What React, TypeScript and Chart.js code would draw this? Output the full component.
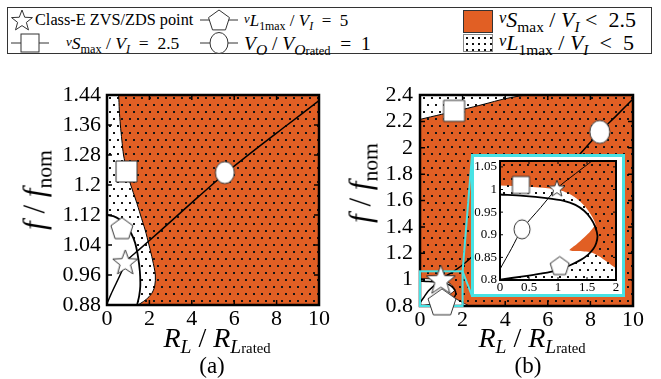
import React, { useEffect, useRef } from 'react';
import { Chart, registerables } from 'chart.js';
Chart.register(...registerables);

const FONT = '"Liberation Serif", "Tinos", "DejaVu Serif", "Noto Serif", "Times New Roman", Times, serif';
const ORANGE = '#E15F24';
const CYAN = 'rgb(72, 226, 228)';

// ---------- Chart (a) ----------
const aXTicks = [0, 2, 4, 6, 8, 10];
const aXTickLabels = ['0', '2', '4', '6', '8', '10'];
const aYTicks = [0.88, 0.96, 1.04, 1.12, 1.2, 1.28, 1.36, 1.44];
const aYTickLabels = ['0.88', '0.96', '1.04', '1.12', '1.2', '1.28', '1.36', '1.44'];
// vSmax/VI = 2.5 contour
const aVsX = [0.5, 0.55, 0.58, 0.63, 0.7, 0.78, 0.93, 1.12, 1.36, 1.58, 1.8, 1.98, 2.15, 2.28, 2.25, 2.1, 1.85, 1.6, 1.46, 1.3];
const aVsY = [1.47, 1.44, 1.4, 1.36, 1.32, 1.28, 1.24, 1.2, 1.16, 1.12, 1.08, 1.04, 1.0, 0.96, 0.93, 0.91, 0.895, 0.885, 0.88, 0.87];
// vL1max/VI = 5 contour
const aVlX = [0, 0.3, 0.6, 0.9, 1.15, 1.33, 1.46, 1.55, 1.57, 1.52, 1.44, 1.38];
const aVlY = [1.12, 1.117, 1.108, 1.092, 1.07, 1.045, 1.01, 0.97, 0.93, 0.905, 0.885, 0.87];
// Vo/Vo_rated = 1 curve
const aVoX = [0, 0.2, 0.45, 0.7, 0.88, 1.5, 2.5, 4, 5.56, 7, 8.5, 10];
const aVoY = [0.884, 0.91, 0.94, 0.97, 0.995, 1.027, 1.077, 1.153, 1.23, 1.295, 1.36, 1.425];
// markers: square, pentagon, star, circle
const aMarkKinds = ['square', 'pentagon', 'star', 'circle'];
const aMarkX = [0.92, 0.7, 0.86, 5.56];
const aMarkY = [1.236, 1.085, 0.995, 1.233];

// ---------- Chart (b) ----------
const bXTicks = [0, 2, 4, 6, 8, 10];
const bXTickLabels = ['0', '2', '4', '6', '8', '10'];
const bYTicks = [0.8, 1, 1.2, 1.4, 1.6, 1.8, 2, 2.2, 2.4];
const bYTickLabels = ['0.8', '1', '1.2', '1.4', '1.6', '1.8', '2', '2.2', '2.4'];
const bVsTopX = [-0.5, 0, 1, 2, 3, 4, 5.1, 5.8];
const bVsTopY = [2.195, 2.215, 2.253, 2.29, 2.33, 2.372, 2.405, 2.43];
const bVsLowX = [-0.5, 0, 0.5, 0.98, 1.2, 1.35, 1.47, 1.56, 1.62, 1.645, 1.61, 1.54, 1.44, 1.32, 1.2, 1.32, 1.45, 1.58, 1.7, 1.85, 2.0, 2.2, 2.45];
const bVsLowY = [1.012, 1.009, 1.006, 1.0, 0.99, 0.977, 0.962, 0.946, 0.932, 0.922, 0.916, 0.905, 0.893, 0.879, 0.866, 0.864, 0.863, 0.861, 0.853, 0.84, 0.826, 0.81, 0.79];
const bVlX = [0, 0.4, 0.8, 1.1, 1.3, 1.45, 1.56, 1.64, 1.68, 1.66, 1.61, 1.52, 1.4, 1.2, 1.0, 0.7, 0.4, 0];
const bVlY = [0.989, 0.986, 0.981, 0.975, 0.966, 0.953, 0.937, 0.918, 0.898, 0.882, 0.869, 0.856, 0.845, 0.832, 0.822, 0.814, 0.808, 0.801];
const bVoX = [0, 0.2, 0.38, 0.7, 0.98, 1.3, 1.6, 2.11, 3, 4, 5, 6, 7, 7.5, 8.44, 9.2, 10];
const bVoY = [0.824, 0.87, 0.912, 0.96, 1.002, 1.035, 1.065, 1.126, 1.255, 1.405, 1.56, 1.715, 1.87, 1.95, 2.12, 2.24, 2.37];
const bMarkKinds = ['square', 'circle', 'star', 'pentagon'];
const bMarkX = [1.6, 8.44, 0.98, 1.03];
const bMarkY = [2.28, 2.12, 1.003, 0.832];

// ---------- Inset of (b) ----------
const cXTicks = [0, 0.5, 1, 1.5, 2];
const cXTickLabels = ['0', '0.5', '1', '1.5', '2'];
const cYTicks = [0.8, 0.85, 0.9, 0.95, 1, 1.05];
const cYTickLabels = ['0.8', '0.85', '0.9', '0.95', '1', '1.05'];
const cMarkKinds = ['square', 'star', 'circle', 'pentagon'];
const cMarkX = [0.36, 0.98, 0.38, 1.03];
const cMarkY = [1.01, 1.003, 0.912, 0.832];

const pts = (xs: number[], ys: number[]) => xs.map((x, i) => ({ x, y: ys[i] }));

function makeMarker(kind: string, w: number, h: number, lw = 1): HTMLCanvasElement {
  const pad = 2;
  const c = document.createElement('canvas');
  c.width = Math.ceil(w + pad * 2);
  c.height = Math.ceil(h + pad * 2);
  const ctx = c.getContext('2d') as CanvasRenderingContext2D;
  const cx = c.width / 2, cy = c.height / 2;
  ctx.beginPath();
  if (kind === 'square') ctx.rect(cx - w / 2, cy - h / 2, w, h);
  else if (kind === 'circle') ctx.ellipse(cx, cy, w / 2, h / 2, 0, 0, Math.PI * 2);
  else {
    const n = 5;
    const R = w / (2 * Math.sin((2 * Math.PI) / 5));
    const hh = R * (1 + Math.cos(Math.PI / 5));
    const sy = h / hh;
    const oy = cy - h / 2 + R * sy;
    const steps = kind === 'star' ? n * 2 : n;
    for (let i = 0; i < steps; i++) {
      const a = -Math.PI / 2 + (i * 2 * Math.PI) / steps;
      const r = kind === 'star' && i % 2 === 1 ? R * 0.42 : R;
      const px = cx + r * Math.cos(a);
      const py = oy + r * Math.sin(a) * sy;
      if (i === 0) ctx.moveTo(px, py);
      else ctx.lineTo(px, py);
    }
  }
  ctx.closePath();
  ctx.fillStyle = '#fff';
  ctx.fill();
  ctx.strokeStyle = '#333';
  ctx.lineWidth = lw;
  ctx.stroke();
  return c;
}

function makeDots(ctx: CanvasRenderingContext2D): CanvasPattern {
  const t = document.createElement('canvas');
  t.width = 8;
  t.height = 14;
  const g = t.getContext('2d') as CanvasRenderingContext2D;
  g.fillStyle = '#151515';
  g.fillRect(1, 2, 2, 2);
  g.fillRect(5, 9, 2, 2);
  return ctx.createPattern(t, 'repeat') as CanvasPattern;
}

function axis(min: number, max: number, ticks: number[], labels: string[], size: number, pad: number, horizontal: boolean, thick: number) {
  return {
    type: 'linear',
    min,
    max,
    bounds: 'data',
    afterBuildTicks: (s: any) => {
      s.ticks = ticks.map((v) => ({ value: v }));
    },
    afterFit: (s: any) => {
      if (horizontal) s.height = thick;
      else s.width = thick;
      s.paddingLeft = 0;
      s.paddingRight = 0;
      s.paddingTop = 0;
      s.paddingBottom = 0;
    },
    ticks: {
      callback: (_v: any, i: number) => labels[i],
      font: { family: FONT, size },
      color: '#000',
      padding: pad,
      maxRotation: 0,
      autoSkip: false,
    },
    grid: { display: false, drawTicks: false },
    border: { display: false },
  };
}

function framePlugin(lw: number, tl: number, tw: number, extra?: (c: any) => void) {
  return {
    id: 'frameTicks',
    beforeDatasetDraw(chart: any, args: any) {
      if (chart.data.datasets[args.index].label !== 'markers') return;
      const { ctx, chartArea: a } = chart;
      const xs = chart.scales.x, ys = chart.scales.y;
      ctx.save();
      ctx.strokeStyle = '#000';
      ctx.lineWidth = tw;
      ctx.beginPath();
      for (const t of xs.ticks) {
        const p = xs.getPixelForValue(t.value);
        ctx.moveTo(p, a.bottom);
        ctx.lineTo(p, a.bottom - tl);
        ctx.moveTo(p, a.top);
        ctx.lineTo(p, a.top + tl);
      }
      for (const t of ys.ticks) {
        const p = ys.getPixelForValue(t.value);
        ctx.moveTo(a.left, p);
        ctx.lineTo(a.left + tl, p);
        ctx.moveTo(a.right, p);
        ctx.lineTo(a.right - tl, p);
      }
      ctx.stroke();
      ctx.lineWidth = lw;
      ctx.strokeRect(a.left, a.top, a.right - a.left, a.bottom - a.top);
      if (extra) extra(chart);
      ctx.restore();
    },
  };
}

function baseOptions(padding: any, scales: any) {
  return {
    animation: false,
    responsive: false,
    devicePixelRatio: 1,
    events: [],
    layout: { padding },
    plugins: { legend: { display: false }, tooltip: { enabled: false } },
    scales,
    elements: { line: { tension: 0.3 }, point: { radius: 0 } },
  };
}

function fillSet(label: string, data: any[], color: any, order: number) {
  return { label, data, fill: 'shape', backgroundColor: color, borderWidth: 0, pointRadius: 0, order };
}
function lineSet(label: string, data: any[], width: number, order: number) {
  return { label, data, fill: false, borderColor: '#000', borderWidth: width, pointRadius: 0, order };
}
function markerSet(xs: number[], ys: number[], styles: HTMLCanvasElement[]) {
  return { label: 'markers', data: pts(xs, ys), showLine: false, pointStyle: styles, pointRadius: 5, clip: false, order: 0 };
}

const sub: React.CSSProperties = { fontSize: '0.7em', verticalAlign: '-0.3em', lineHeight: 0 };
const subBig: React.CSSProperties = { fontSize: '0.8em', verticalAlign: '-0.3em', lineHeight: 0 };
const vpre: React.CSSProperties = { fontSize: '0.75em', verticalAlign: '0.25em', fontStyle: 'italic' };

const INSET = { left: 471, top: 154, width: 154, height: 143 };
const BCANVAS = { left: 330, top: 60 };

export default function App() {
  const aRef = useRef<HTMLCanvasElement>(null);
  const bRef = useRef<HTMLCanvasElement>(null);
  const cRef = useRef<HTMLCanvasElement>(null);

  useEffect(() => {
    const charts: Chart[] = [];
    // ----- (a)
    {
      const cv = aRef.current as HTMLCanvasElement;
      const dots = makeDots(cv.getContext('2d') as CanvasRenderingContext2D);
      const orangePoly = [...pts(aVsX, aVsY), { x: 11, y: 0.85 }, { x: 11, y: 1.5 }, { x: 0.45, y: 1.5 }];
      const dotsPoly = [{ x: -0.5, y: aVlY[0] }, ...pts(aVlX, aVlY), { x: 1.35, y: 0.85 }, { x: 11, y: 0.85 }, { x: 11, y: 1.5 }, { x: -0.5, y: 1.5 }];
      const styles = aMarkKinds.map((k) =>
        k === 'square' ? makeMarker(k, 21, 21) : k === 'pentagon' ? makeMarker(k, 22, 21) : k === 'star' ? makeMarker(k, 25, 24) : makeMarker(k, 19, 22)
      );
      charts.push(
        new Chart(cv, {
          type: 'line',
          data: {
            datasets: [
              fillSet('orange', orangePoly, ORANGE, 10),
              fillSet('dots', dotsPoly, dots, 9),
              lineSet('vS', pts(aVsX, aVsY), 1, 4),
              lineSet('vL', pts(aVlX, aVlY), 1.8, 3),
              lineSet('vo', pts(aVoX, aVoY), 1.5, 2),
              markerSet(aMarkX, aMarkY, styles),
            ] as any,
          },
          options: baseOptions({ left: 0, right: 11, top: 35, bottom: 0 }, {
            x: axis(0, 10, aXTicks, aXTickLabels, 22, 1, true, 30),
            y: axis(0.88, 1.44, aYTicks, aYTickLabels, 22, 6, false, 107),
          }) as any,
          plugins: [framePlugin(2.5, 5, 1.5)],
        })
      );
    }
    // ----- (b)
    const bOrange = [...pts(bVsTopX, bVsTopY), { x: 11, y: 2.5 }, { x: 11, y: 0.7 }, { x: 2.6, y: 0.7 }, ...pts(bVsLowX, bVsLowY).reverse()];
    const bDots = [{ x: -0.5, y: bVlY[0] }, ...pts(bVlX, bVlY), { x: -0.5, y: 0.801 }, { x: -0.5, y: 0.7 }, { x: 11, y: 0.7 }, { x: 11, y: 2.5 }, { x: -0.5, y: 2.5 }];
    {
      const cv = bRef.current as HTMLCanvasElement;
      const dots = makeDots(cv.getContext('2d') as CanvasRenderingContext2D);
      const styles = bMarkKinds.map((k) =>
        k === 'square' ? makeMarker(k, 21, 21) : k === 'circle' ? makeMarker(k, 20, 23) : k === 'star' ? makeMarker(k, 29, 28) : makeMarker(k, 28, 26)
      );
      const extra = (chart: any) => {
        const { ctx } = chart;
        const xs = chart.scales.x, ys = chart.scales.y;
        const x0 = xs.getPixelForValue(cXTicks[0]);
        const x1 = xs.getPixelForValue(cXTicks[cXTicks.length - 1]);
        const y0 = ys.getPixelForValue(0.8);
        const y1 = ys.getPixelForValue(1.063);
        ctx.strokeStyle = CYAN;
        ctx.lineWidth = 2;
        ctx.strokeRect(x0, y1, x1 - x0, y0 - y1);
        const bx = INSET.left - BCANVAS.left + 1;
        ctx.beginPath();
        ctx.moveTo(x1, y1);
        ctx.lineTo(bx, INSET.top - BCANVAS.top + 1);
        ctx.moveTo(x1, y1);
        ctx.lineTo(bx, INSET.top + INSET.height - BCANVAS.top - 1);
        ctx.stroke();
      };
      charts.push(
        new Chart(cv, {
          type: 'line',
          data: {
            datasets: [
              fillSet('orange', bOrange, ORANGE, 10),
              fillSet('dots', bDots, dots, 9),
              lineSet('vStop', pts(bVsTopX, bVsTopY), 1, 5),
              lineSet('vSlow', pts(bVsLowX, bVsLowY), 0.8, 4),
              lineSet('vL', pts(bVlX, bVlY), 1.5, 3),
              lineSet('vo', pts(bVoX, bVoY), 1.5, 2),
              markerSet(bMarkX, bMarkY, styles),
            ] as any,
          },
          options: baseOptions({ left: 0, right: 28, top: 35, bottom: 0 }, {
            x: axis(0, 10, bXTicks, bXTickLabels, 22, 1, true, 29),
            y: axis(0.8, 2.4, bYTicks, bYTickLabels, 22, 7, false, 90),
          }) as any,
          plugins: [framePlugin(2.5, 5, 1.5, extra)],
        })
      );
    }
    // ----- inset
    {
      const cv = cRef.current as HTMLCanvasElement;
      const dots = makeDots(cv.getContext('2d') as CanvasRenderingContext2D);
      const styles = cMarkKinds.map((k) =>
        k === 'square' ? makeMarker(k, 17, 17) : k === 'star' ? makeMarker(k, 16, 16) : k === 'circle' ? makeMarker(k, 16, 19) : makeMarker(k, 19, 18)
      );
      charts.push(
        new Chart(cv, {
          type: 'line',
          data: {
            datasets: [
              fillSet('orange', bOrange, ORANGE, 10),
              fillSet('dots', bDots, dots, 9),
              lineSet('vL', pts(bVlX, bVlY), 1.8, 3),
              lineSet('vo', pts(bVoX, bVoY), 1, 2),
              markerSet(cMarkX, cMarkY, styles),
            ] as any,
          },
          options: baseOptions({ left: 0, right: 3, top: 3, bottom: 0 }, {
            x: axis(0, 2, cXTicks, cXTickLabels, 13, 0, true, 14),
            y: axis(0.8, 1.063, cYTicks, cYTickLabels, 13, 3, false, 26),
          }) as any,
          plugins: [framePlugin(2, 3, 1)],
        })
      );
    }
    return () => charts.forEach((c) => c.destroy());
  }, []);

  const abs = (s: React.CSSProperties): React.CSSProperties => ({ position: 'absolute', whiteSpace: 'nowrap', lineHeight: 1, ...s });
  const row1 = 20, row2 = 43;

  const StarIcon = ({ x, y, s }: any) => {
    const R = s / 2, r = R * 0.42;
    const p = Array.from({ length: 10 }, (_, i) => {
      const a = -Math.PI / 2 + (i * Math.PI) / 5;
      const rr = i % 2 ? r : R;
      return `${(R + 1 + rr * Math.cos(a)).toFixed(2)},${(R + 2 + rr * Math.sin(a)).toFixed(2)}`;
    }).join(' ');
    return (
      <svg style={abs({ left: x - R - 1, top: y - R - 1 })} width={s + 2} height={s + 2}>
        <polygon points={p} fill="#fff" stroke="#333" strokeWidth={1} />
      </svg>
    );
  };
  const StubIcon = ({ x, y, kind }: any) => {
    const w = 40, h = 26, cx = 20, cy = 13;
    let shape: any;
    if (kind === 'square') shape = <rect x={cx - 9} y={cy - 9} width={18} height={18} fill="#fff" stroke="#333" />;
    else if (kind === 'circle') shape = <ellipse cx={cx} cy={cy} rx={9} ry={10.5} fill="#fff" stroke="#333" />;
    else {
      const R = 11;
      const p = Array.from({ length: 5 }, (_, i) => {
        const a = -Math.PI / 2 + (i * 2 * Math.PI) / 5;
        return `${(cx + R * Math.cos(a)).toFixed(2)},${(cy + 1 + R * Math.sin(a)).toFixed(2)}`;
      }).join(' ');
      shape = <polygon points={p} fill="#fff" stroke="#333" />;
    }
    return (
      <svg style={abs({ left: x, top: y - h / 2 })} width={w} height={h}>
        <line x1={1} y1={cy} x2={w - 1} y2={cy} stroke="#333" strokeWidth={1} />
        {shape}
      </svg>
    );
  };

  return (
    <div style={{ position: 'fixed', left: 0, top: 0, width: 661, height: 379, background: '#fff', overflow: 'hidden', fontFamily: FONT, color: '#000' }}>
      {/* legend */}
      <div style={abs({ left: 7, top: 7, width: 645, height: 47, border: '1.5px solid #333', boxSizing: 'border-box' })} />
      <StarIcon x={22} y={row1} s={22} />
      <div style={abs({ left: 35, top: row1 - 8, fontSize: 16.3 })}>Class-E ZVS/ZDS point</div>
      <StubIcon x={10} y={row2} kind="square" />
      <div style={abs({ left: 66, top: row2 - 8, fontSize: 17.5 })}>
        <span style={vpre}>v</span><i>S</i><span style={sub}>max</span> / <i>V</i><span style={sub}><i>I</i></span>&nbsp; = &nbsp;2.5
      </div>
      <StubIcon x={199} y={row1} kind="pentagon" />
      <div style={abs({ left: 244, top: row1 - 8, fontSize: 17 })}>
        <span style={vpre}>v</span><i>L</i><span style={sub}>1max</span> / <i>V</i><span style={sub}><i>I</i></span>&nbsp; = &nbsp;5
      </div>
      <StubIcon x={199} y={row2} kind="circle" />
      <div style={abs({ left: 244, top: row2 - 9, fontSize: 19.5 })}>
        <i>V</i><span style={subBig}><i>O</i></span>&nbsp;/ <i>V</i><span style={subBig}><i>O</i><span style={{ fontSize: '0.8em' }}>rated</span></span>&nbsp; = &nbsp;1
      </div>
      <div style={abs({ left: 463, top: 10, width: 30, height: 23, background: ORANGE, border: '1px solid #333', boxSizing: 'border-box' })} />
      <div
        style={abs({
          left: 463, top: 34, width: 30, height: 18, border: '1px solid #888', boxSizing: 'border-box',
          backgroundColor: '#fff',
          backgroundImage: 'radial-gradient(#111 0.9px, transparent 1.2px)',
          backgroundSize: '6px 6px',
        })}
      />
      <div style={abs({ left: 499, top: row1 - 11, fontSize: 22 })}>
        <span style={vpre}>v</span><i>S</i><span style={sub}>max</span> / <i>V</i><span style={sub}><i>I</i></span>&nbsp;&lt;&nbsp; 2.5
      </div>
      <div style={abs({ left: 499, top: row2 - 11, fontSize: 22 })}>
        <span style={vpre}>v</span><i>L</i><span style={sub}>1max</span> / <i>V</i><span style={sub}><i>I</i></span>&nbsp; &lt; &nbsp;5
      </div>

      {/* charts */}
      <canvas ref={aRef} width={330} height={275} style={{ position: 'absolute', left: 0, top: 60 }} />
      <canvas ref={bRef} width={331} height={275} style={{ position: 'absolute', left: BCANVAS.left, top: BCANVAS.top }} />
      <div style={abs({ left: INSET.left, top: INSET.top, width: INSET.width, height: INSET.height, border: `3px solid ${CYAN}`, boxSizing: 'border-box', background: '#fff' })} />
      <canvas ref={cRef} width={148} height={139} style={{ position: 'absolute', left: 474, top: 155 }} />

      {/* axis titles */}
      <div style={abs({ left: 34, top: 190, fontSize: 31, transform: 'translate(-50%,-50%) rotate(-90deg)' })}>
        <i>f</i> / <i>f</i><span style={sub}>nom</span>
      </div>
      <div style={abs({ left: 360, top: 183, fontSize: 31, transform: 'translate(-50%,-50%) rotate(-90deg)' })}>
        <i>f</i> / <i>f</i><span style={sub}>nom</span>
      </div>
      {[217, 532].map((cx) => (
        <div key={cx} style={abs({ left: cx, top: 338, fontSize: 28, transform: 'translate(-50%,-50%)' })}>
          <i>R</i><span style={sub}><i>L</i></span> / <i>R</i><span style={sub}><i>L</i><span style={{ fontSize: '0.75em' }}>rated</span></span>
        </div>
      ))}
      <div style={abs({ left: 212, top: 365, fontSize: 23, transform: 'translate(-50%,-50%)' })}>(a)</div>
      <div style={abs({ left: 528, top: 365, fontSize: 23, transform: 'translate(-50%,-50%)' })}>(b)</div>
    </div>
  );
}
